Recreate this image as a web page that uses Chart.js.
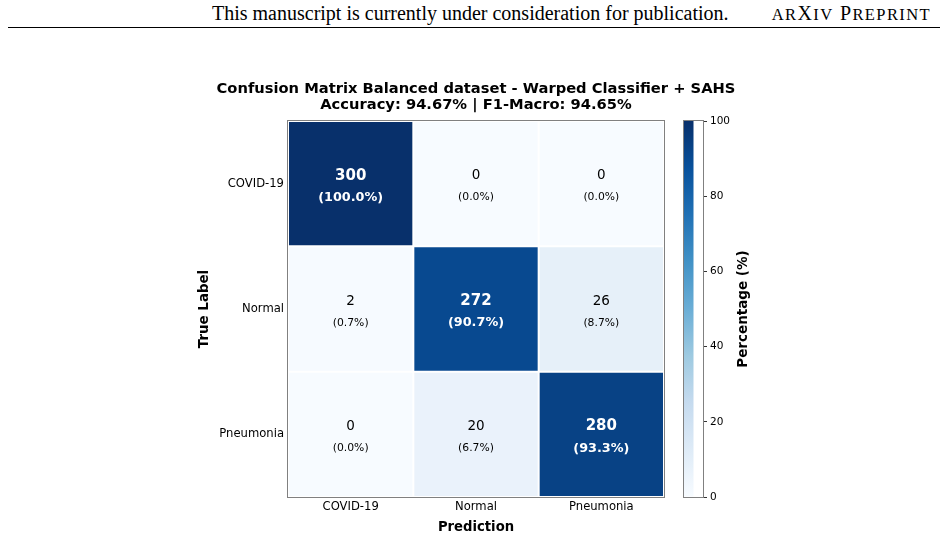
<!DOCTYPE html>
<html>
<head>
<meta charset="utf-8">
<script src="https://cdn.jsdelivr.net/npm/chart.js@4.4.1/dist/chart.umd.min.js"></script>
<style>
  html, body { margin: 0; padding: 0; background: #fff; }
  #page { position: relative; width: 948px; height: 538px; overflow: hidden; background: #fff; }
  #hdr { position: absolute; left: 212px; top: 3px; font-family: "Liberation Serif", "DejaVu Serif", serif; font-size: 20px; line-height: 20px; color: #000; white-space: nowrap; }
  #hdr2 { position: absolute; right: 17px; top: 3px; font-family: "Liberation Serif", "DejaVu Serif", serif; font-size: 20px; line-height: 20px; color: #000; white-space: nowrap; letter-spacing: 1.4px; }
  #hdr2 .sc { font-size: 16.5px; }
  #rule { position: absolute; left: 8px; top: 27px; width: 932px; height: 1px; background: #000; }
  #main { position: absolute; left: 0; top: 0; }
  #cbar { position: absolute; left: 670px; top: 0; }
</style>
</head>
<body>
<div id="page">
  <div id="hdr">This manuscript is currently under consideration for publication.</div>
  <div id="hdr2"><span class="sc">AR</span>X<span class="sc">IV</span> P<span class="sc">REPRINT</span></div>
  <div id="rule"></div>
  <canvas id="main" width="948" height="538"></canvas>
  <canvas id="cbar" width="150" height="538"></canvas>
</div>
<script>
// ---- data ----
const categories = ['COVID-19', 'Normal', 'Pneumonia'];
const countsCovid = [300, 0, 0];
const countsNormal = [2, 272, 26];
const countsPneumonia = [0, 20, 280];
const colorbarTicks = [0, 20, 40, 60, 80, 100];
const titleLines = ['Confusion Matrix Balanced dataset - Warped Classifier + SAHS', 'Accuracy: 94.67% | F1-Macro: 94.65%'];

const rows = [countsCovid, countsNormal, countsPneumonia];
const pctRows = rows.map(r => { const s = r.reduce((a, b) => a + b, 0); return r.map(v => v / s * 100); });

// matplotlib "Blues" colormap
const BLUES = ['#f7fbff', '#deebf7', '#c6dbef', '#9ecae1', '#6baed6', '#4292c6', '#2171b5', '#08519c', '#08306b'];
function hex2rgb(h) { return [1, 3, 5].map(i => parseInt(h.substr(i, 2), 16)); }
function blues(t) {
  t = Math.max(0, Math.min(1, t));
  const n = BLUES.length - 1;
  const p = t * n; const i = Math.min(n - 1, Math.floor(p)); const f = p - i;
  const a = hex2rgb(BLUES[i]), b = hex2rgb(BLUES[i + 1]);
  const c = a.map((v, k) => Math.round(v + (b[k] - v) * f));
  return `rgb(${c[0]},${c[1]},${c[2]})`;
}

const FONT = 'DejaVu Sans';

// ---- heatmap ----
const datasets = rows.map((r, ri) => ({
  label: categories[ri],
  data: r.map(() => 1),
  counts: r,
  pcts: pctRows[ri],
  backgroundColor: pctRows[ri].map(p => blues(p / 100)),
  borderColor: '#ffffff',
  borderWidth: 1,
  borderSkipped: false,
  inflateAmount: 0,
  barPercentage: 1,
  categoryPercentage: 1
}));

const heatText = {
  id: 'heatText',
  afterDatasetsDraw(chart) {
    const ctx = chart.ctx;
    ctx.save();
    ctx.textAlign = 'center';
    ctx.textBaseline = 'middle';
    chart.data.datasets.forEach((ds, di) => {
      const meta = chart.getDatasetMeta(di);
      meta.data.forEach((el, i) => {
        const cx = el.x;
        const cy = (el.y + el.base) / 2;
        const pct = ds.pcts[i];
        const strong = pct > 50;
        ctx.fillStyle = strong ? '#ffffff' : '#000000';
        ctx.font = (strong ? 'bold 15px ' : '13.5px ') + FONT;
        ctx.fillText(String(ds.counts[i]), cx, cy - 8);
        ctx.font = (strong ? 'bold 12.8px ' : '10.8px ') + FONT;
        ctx.fillText('(' + pct.toFixed(1) + '%)', cx, cy + 14);
      });
    });
    // frame
    const a = chart.chartArea;
    ctx.strokeStyle = '#808080';
    ctx.lineWidth = 1;
    ctx.strokeRect(Math.round(a.left) - 0.5, Math.round(a.top) - 0.5, Math.round(a.right - a.left) + 1, Math.round(a.bottom - a.top) + 1);
    // title
    ctx.fillStyle = '#000';
    ctx.font = 'bold 14.7px ' + FONT;
    const mx = (a.left + a.right) / 2;
    ctx.fillText(titleLines[0], mx, a.top - 32);
    ctx.fillText(titleLines[1], mx, a.top - 16);
    ctx.restore();
  }
};

new Chart(document.getElementById('main'), {
  type: 'bar',
  data: { labels: categories, datasets },
  options: {
    responsive: false,
    animation: false,
    devicePixelRatio: 1,
    layout: { padding: { top: 121, right: 284, bottom: 0, left: 180 } },
    plugins: { legend: { display: false }, tooltip: { enabled: false }, title: { display: false } },
    scales: {
      x: {
        type: 'category',
        stacked: true,
        grid: { display: false, drawTicks: false },
        border: { display: false },
        ticks: { color: '#000', font: { family: FONT, size: 11.6 }, padding: 3, maxRotation: 0 },
        title: { display: true, text: 'Prediction', color: '#000', font: { family: FONT, size: 13.2, weight: 'bold' }, padding: { top: 0, bottom: 3 } },
        afterFit(s) { s.height = 41; }
      },
      y: {
        type: 'linear',
        stacked: true,
        min: 0, max: 3,
        reverse: true,
        grid: { display: false, drawTicks: false },
        border: { display: false },
        afterBuildTicks(s) { s.ticks = categories.map((c, i) => ({ value: i + 0.5 })); },
        ticks: { color: '#000', font: { family: FONT, size: 11.6 }, padding: 4, callback: (v) => categories[Math.floor(v)] },
        title: { display: true, text: 'True Label', color: '#000', font: { family: FONT, size: 13.4, weight: 'bold' }, padding: { top: 16, bottom: 0 } },
        afterFit(s) { s.width = 108; }
      }
    }
  },
  plugins: [heatText]
});

// ---- colorbar ----
const cbPlugin = {
  id: 'cbPlugin',
  afterDatasetsDraw(chart) {
    const ctx = chart.ctx;
    const a = chart.chartArea;
    ctx.save();
    ctx.strokeStyle = '#808080';
    ctx.lineWidth = 1;
    ctx.strokeRect(Math.round(a.left) - 0.5, Math.round(a.top) - 0.5, Math.round(a.right - a.left) + 1, Math.round(a.bottom - a.top) + 1);
    ctx.translate(a.right + 40, (a.top + a.bottom) / 2);
    ctx.rotate(-Math.PI / 2);
    ctx.textAlign = 'center';
    ctx.textBaseline = 'middle';
    ctx.fillStyle = '#000';
    ctx.font = 'bold 13.5px ' + FONT;
    ctx.fillText('Percentage (%)', 0, 0);
    ctx.restore();
  }
};

new Chart(document.getElementById('cbar'), {
  type: 'bar',
  data: {
    labels: ['cb'],
    datasets: [{
      data: [[colorbarTicks[0], colorbarTicks[colorbarTicks.length - 1]]],
      backgroundColor(c) {
        const ch = c.chart; const ys = ch.scales.y;
        if (!ys || !ch.chartArea) return BLUES[0];
        const g = ch.ctx.createLinearGradient(0, ys.getPixelForValue(0), 0, ys.getPixelForValue(100));
        BLUES.forEach((col, i) => g.addColorStop(i / (BLUES.length - 1), col));
        return g;
      },
      borderWidth: 0,
      inflateAmount: 0,
      barPercentage: 1,
      categoryPercentage: 1
    }]
  },
  options: {
    responsive: false,
    animation: false,
    devicePixelRatio: 1,
    layout: { padding: { top: 121, right: 0, bottom: 41, left: 14 } },
    plugins: { legend: { display: false }, tooltip: { enabled: false } },
    scales: {
      x: { display: false, offset: false },
      y: {
        position: 'right',
        min: 0, max: 100,
        afterBuildTicks(s) { s.ticks = colorbarTicks.map(v => ({ value: v })); },
        grid: { display: true, drawOnChartArea: false, drawTicks: true, tickLength: 4, color: '#333' },
        border: { display: false },
        ticks: { color: '#000', font: { family: FONT, size: 10.5 }, padding: 3 },
        afterFit(s) { s.width = 117; }
      }
    }
  },
  plugins: [cbPlugin]
});
</script>
</body>
</html>
